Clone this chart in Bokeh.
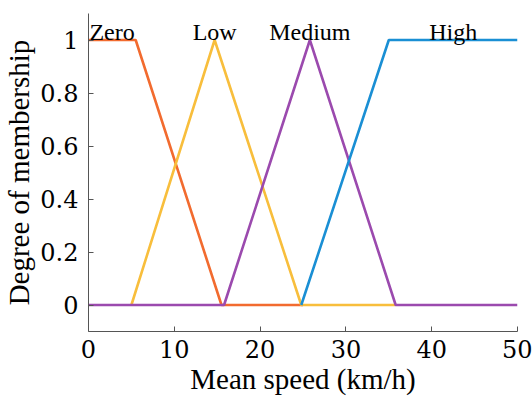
from bokeh.plotting import figure
from bokeh.models import Range1d, FixedTicker
from bokeh.core.properties import value
from bokeh.embed import file_html
from bokeh.resources import INLINE

# Membership functions (x in km/h, y = degree of membership)
zero_x = [0, 5.5, 15.5, 25]
zero_y = [1, 1, 0, 0]
low_x = [5, 14.7, 24.8, 35.8]
low_y = [0, 1, 0, 0]
medium_x = [0, 15.8, 25.8, 35.8, 50]
medium_y = [0, 0, 1, 0, 0]
high_x = [24.8, 35, 50]
high_y = [0, 1, 1]

labels = ["Zero", "Low", "Medium", "High"]
x_ticks = [0, 10, 20, 30, 40, 50]
y_ticks = [0, 0.2, 0.4, 0.6, 0.8, 1]

colors = ["#F26B2F", "#F8BE3C", "#9B4AAE", "#1A8FD4"]
FONT = "Liberation Serif"

p = figure(width=532, height=401, output_backend="svg", toolbar_location=None,
           x_range=Range1d(0, 50), y_range=Range1d(-0.1, 1.1),
           min_border_left=86, min_border_right=15, min_border_top=13,
           min_border_bottom=70)
p.outline_line_color = None
p.grid.visible = False
p.background_fill_color = "white"
p.border_fill_color = "white"

series = [(zero_x, zero_y), (low_x, low_y), (medium_x, medium_y), (high_x, high_y)]
for (xs, ys), c in zip(series, colors):
    p.line(xs, ys, line_color=c, line_width=2.6)

def top_centre(xs, ys):
    tops = [x for x, y in zip(xs, ys) if y == 1]
    return (min(tops) + max(tops)) / 2

lx = [top_centre(xs, ys) for xs, ys in series]
p.text(x=lx, y=[1.03] * 4, text=labels, text_align="center",
       text_baseline="alphabetic", text_font=value(FONT),
       text_font_size="24px", text_color="black")

p.axis.axis_line_color = "#555555"
p.axis.major_tick_line_color = "#555555"
p.axis.major_tick_in = 5
p.axis.major_tick_out = 0
p.axis.minor_tick_line_color = None
p.axis.major_label_text_font_size = "24px"
p.axis.major_label_text_color = "black"
p.axis.axis_label_text_font = FONT
p.axis.axis_label_text_font_size = "29px"
p.axis.axis_label_text_font_style = "normal"
p.axis.axis_label_text_color = "black"
p.xaxis.major_label_text_font = "DejaVu Serif"
p.yaxis.major_label_text_font = "DejaVu Serif"

p.xaxis.ticker = FixedTicker(ticks=x_ticks)
p.yaxis.ticker = FixedTicker(ticks=y_ticks)
p.yaxis.major_label_overrides = {0: "0", 1: "1"}
p.xaxis.axis_label = "Mean speed (km/h)"
p.yaxis.axis_label = "Degree of membership"
p.xaxis.major_label_standoff = 8
p.yaxis.major_label_standoff = 10
p.xaxis.axis_label_standoff = 2
p.yaxis.axis_label_standoff = 2

open("out.html", "w").write(file_html(p, INLINE))
